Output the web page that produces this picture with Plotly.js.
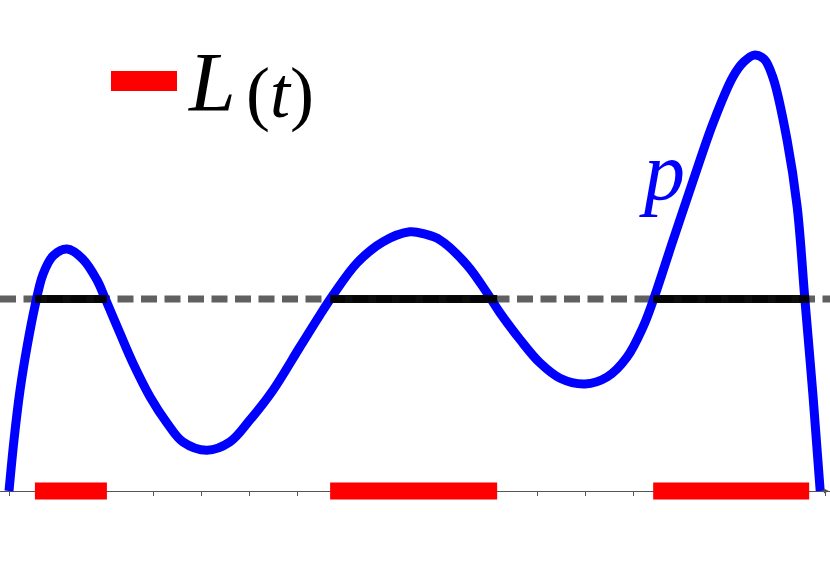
<!DOCTYPE html>
<html>
<head>
<meta charset="utf-8">
<script src="https://cdn.plot.ly/plotly-3.0.1.min.js"></script>
<style>
  html, body { margin: 0; padding: 0; background: #fff; }
  #plot { width: 830px; height: 568px; }
</style>
</head>
<body>
<div id="plot"></div>
<script>
// curve p (x in tick units, y in same units, axis at y = 0)
const curveX = [0, 0.104, 0.23, 0.375, 0.54, 0.71, 0.92, 1.21, 1.54, 1.83, 2.0, 2.31, 2.58, 2.94, 3.29, 3.625,
  4.125, 4.6, 5.02, 5.5, 6.06, 6.48, 6.75, 7.25, 7.79, 8.35, 8.67, 8.98, 9.54, 9.96, 10.23, 10.65, 11.06,
  11.48, 12.0, 12.46, 12.875, 13.21, 13.417, 13.83, 14.25, 14.67, 15.08, 15.31, 15.52, 15.73, 15.92,
  16.21, 16.42, 16.58, 16.75, 16.9];
const curveY = [0, 1.06, 2.1, 3.0, 3.85, 4.52, 4.9, 5.04, 4.83, 4.4, 4.02, 3.29, 2.67, 1.96, 1.42, 1.02,
  0.85, 1.02, 1.48, 2.1, 3.0, 3.67, 4.08, 4.75, 5.19, 5.4, 5.35, 5.23, 4.71, 4.125, 3.71, 3.15, 2.67,
  2.35, 2.23, 2.375, 2.79, 3.42, 3.96, 5.21, 6.46, 7.67, 8.625, 8.94, 9.08, 9.0, 8.6,
  7.31, 5.92, 4.0, 1.98, 0];

// level t and the set L(t) where p > t
const threshold = 4.0;
const intervalStart = [0.54, 6.69, 13.42];
const intervalEnd = [2.04, 10.17, 16.67];

const xRange = [-0.1875, 17.104];
const yRange = [-1.604, 10.229];

function segments(yValue) {
  const xs = [];
  const ys = [];
  intervalStart.forEach((start, i) => {
    if (i > 0) { xs.push(null); ys.push(null); }
    xs.push(start, intervalEnd[i]);
    ys.push(yValue, yValue);
  });
  return { xs, ys };
}

const blackSeg = segments(threshold);
const redSeg = segments(0);

const traces = [
  {
    x: xRange, y: [threshold, threshold], mode: 'lines', type: 'scatter',
    line: { color: '#606060', width: 7, dash: '16px,7.5px' }, hoverinfo: 'skip',
  },
  {
    x: curveX, y: curveY, mode: 'lines', type: 'scatter',
    line: { color: '#0000ff', width: 9, shape: 'spline', smoothing: 1, simplify: false }, hoverinfo: 'skip',
  },
  {
    x: blackSeg.xs, y: blackSeg.ys, mode: 'lines', type: 'scatter', connectgaps: false,
    line: { color: 'rgba(0,0,0,0.95)', width: 8 }, hoverinfo: 'skip',
  },
  {
    x: redSeg.xs, y: redSeg.ys, mode: 'lines', type: 'scatter', connectgaps: false,
    line: { color: '#ff0000', width: 17 }, hoverinfo: 'skip',
  },
];

const serif = 'Liberation Serif, serif';

const layout = {
  width: 830,
  height: 568,
  margin: { t: 0, b: 0, l: 0, r: 0 },
  paper_bgcolor: '#ffffff',
  plot_bgcolor: '#ffffff',
  showlegend: false,
  xaxis: {
    range: xRange, showgrid: false, zeroline: false,
    showline: true, linecolor: '#555555', linewidth: 1,
    ticks: 'outside', ticklen: 4, tickcolor: '#555555', tickwidth: 1,
    tick0: 0, dtick: 1, showticklabels: false,
    anchor: 'free', position: (568 - 491) / 568, layer: 'below traces',
  },
  yaxis: { range: yRange, visible: false, showgrid: false, zeroline: false },
  shapes: [
    {
      type: 'rect', xref: 'paper', yref: 'paper',
      x0: 111 / 830, x1: 177 / 830, y0: 1 - 91 / 568, y1: 1 - 71 / 568,
      fillcolor: '#ff0000', line: { width: 0 },
    },
  ],
  annotations: [
    {
      xref: 'paper', yref: 'paper', x: 186 / 830, y: 1 - 131 / 568,
      xanchor: 'left', yanchor: 'bottom', showarrow: false,
      text: '<i>L</i>',
      font: { family: serif, size: 84, color: '#000000' },
    },
    {
      xref: 'paper', yref: 'paper', x: 244 / 830, y: 1 - 135 / 568,
      xanchor: 'left', yanchor: 'bottom', showarrow: false,
      text: '(<i>t</i>)',
      font: { family: serif, size: 72, color: '#000000' },
    },
    {
      xref: 'paper', yref: 'paper', x: 637 / 830, y: 1 - 219 / 568,
      xanchor: 'left', yanchor: 'bottom', showarrow: false,
      text: '<i>p</i>',
      font: { family: serif, size: 82, color: '#0000ff' },
    },
    {
      x: 17.08, y: 0, ax: -8, ay: 0, text: '', showarrow: true,
      arrowhead: 2, arrowsize: 1, arrowwidth: 1, arrowcolor: '#555555',
    },
  ],
};

Plotly.newPlot('plot', traces, layout, { displayModeBar: false, staticPlot: true });
</script>
</body>
</html>
